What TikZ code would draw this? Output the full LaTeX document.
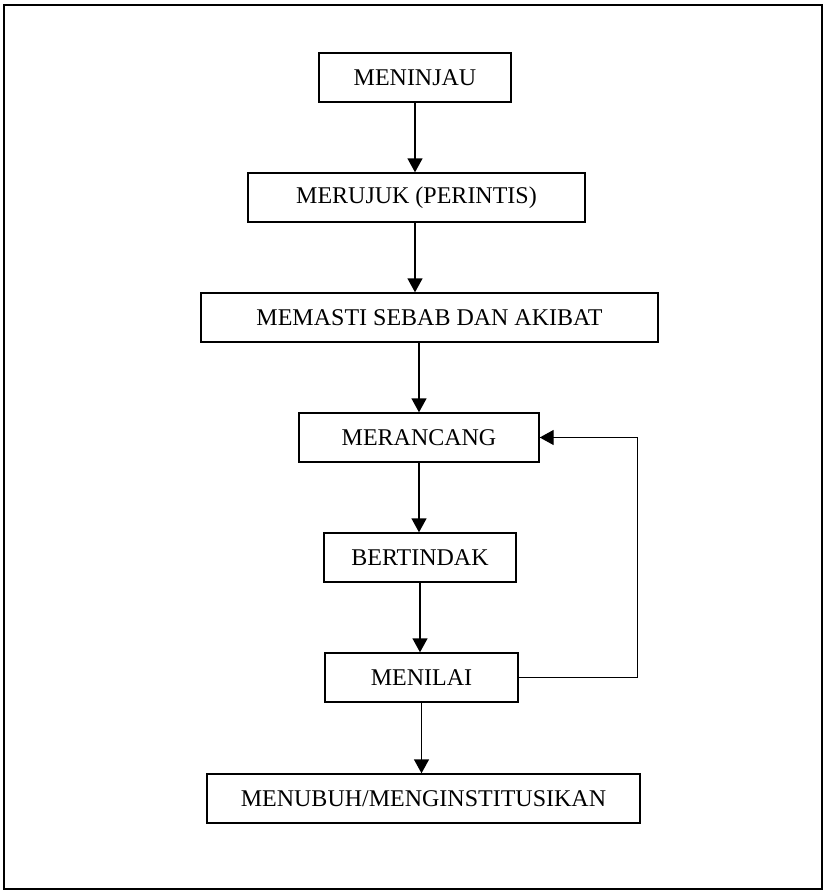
\documentclass[tikz,border=0pt]{standalone}
\usepackage{fontspec}
\setmainfont{Liberation Serif}
\usetikzlibrary{arrows.meta}

\begin{document}
\begin{tikzpicture}[x=1pt, y=-1pt,
            box/.style={rectangle, draw, line width=1.4pt, minimum height=49pt, inner sep=0pt, font=\fontsize{24}{28}\selectfont},
            arr/.style={line width=1.4pt, -{Triangle[length=14pt, width=15pt]}}]
            \useasboundingbox (0, 0) rectangle (826, 891);
            \draw[line width=1.6pt] (4, 5) rectangle (822, 889);

            \node[box, minimum width=192pt] at (415, 77.5) (meninjau) {MENINJAU};
            \node[box, minimum width=337pt] at (416.5, 197.5) (merujuk) {MERUJUK (PERINTIS)};
            \node[box, minimum width=457pt] at (429.5, 317.5) (memasti) {MEMASTI SEBAB DAN AKIBAT};
            \node[box, minimum width=240pt] at (419, 437.5) (merancang) {MERANCANG};
            \node[box, minimum width=192pt] at (420, 557.5) (bertindak) {BERTINDAK};
            \node[box, minimum width=193pt] at (421.5, 677.5) (menilai) {MENILAI};
            \node[box, minimum width=433pt] at (423.5, 798.5) (menubuh) {MENUBUH/MENGINSTITUSIKAN};

            \draw[arr] (meninjau) -- (meninjau |- merujuk.north);
            \draw[arr] (meninjau |- merujuk.south) -- (meninjau |- memasti.north);
            \draw[arr] (merancang |- memasti.south) -- (merancang);
            \draw[arr] (merancang) -- (merancang |- bertindak.north);
            \draw[arr] (bertindak) -- (bertindak |- menilai.north);
            \draw[arr] (menilai) -- (menilai |- menubuh.north);
            \draw[arr] (menilai.east) -- ++(119, 0) |- (merancang.east);
        \end{tikzpicture}
\end{document}
